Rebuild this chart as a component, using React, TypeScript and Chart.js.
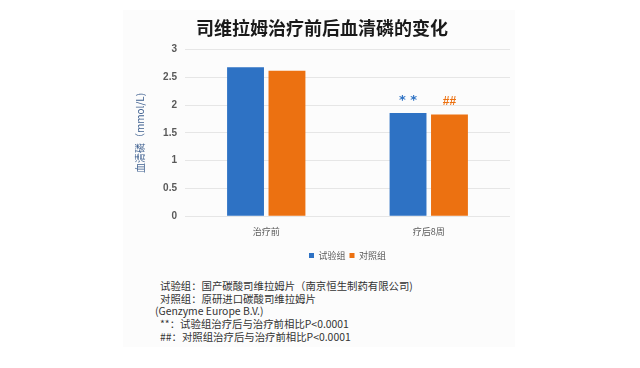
import React, { useEffect, useRef } from "react";
import { Chart, registerables } from "chart.js";

Chart.register(...registerables);

const titleText = "司维拉姆治疗前后血清磷的变化";
const yAxisTitle = "血清磷（mmol/L)";
const categories = ["治疗前", "疗后8周"];
const seriesNames = ["试验组", "对照组"];
const testGroup = [2.68, 1.86];
const controlGroup = [2.62, 1.83];
const testMarks = ["", "**"];
const controlMarks = ["", "##"];
const yMin = 0;
const yMax = 3;
const yStep = 0.5;
const notes = [
  "试验组：国产碳酸司维拉姆片（南京恒生制药有限公司)",
  "对照组：原研进口碳酸司维拉姆片",
  "(Genzyme Europe B.V.)",
  "**：试验组治疗后与治疗前相比P<0.0001",
  "##：对照组治疗后与治疗前相比P<0.0001",
];

const BLUE = "#2E72C4";
const ORANGE = "#EC7111";
const CJK = "'Noto Sans CJK SC', 'Liberation Sans', sans-serif";

const markPlugin = {
  id: "markPlugin",
  afterDatasetsDraw(chart: any) {
    const ctx = chart.ctx;
    const marksList = [testMarks, controlMarks];
    const colors = [BLUE, ORANGE];
    chart.data.datasets.forEach((_: any, di: number) => {
      const meta = chart.getDatasetMeta(di);
      meta.data.forEach((el: any, i: number) => {
        const m = marksList[di][i];
        if (!m) return;
        ctx.save();
        ctx.fillStyle = colors[di];
        ctx.textAlign = "center";
        ctx.textBaseline = "middle";
        if (di === 0) {
          ctx.font = "bold 13px 'DejaVu Sans', sans-serif";
          ctx.fillText(m.split("").join(" "), el.x, el.y - 12);
        } else {
          ctx.font = "bold 12px 'Liberation Sans', sans-serif";
          ctx.fillText(m, el.x, el.y - 13);
        }
        ctx.restore();
      });
    });
  },
};

export default function App() {
  const ref = useRef<HTMLCanvasElement>(null);
  useEffect(() => {
    document.body.style.margin = "0";
    const chart = new Chart(ref.current!, {
      type: "bar",
      data: {
        labels: categories,
        datasets: [
          {
            label: seriesNames[0],
            data: testGroup,
            backgroundColor: BLUE,
            categoryPercentage: 0.51,
            barPercentage: 0.89,
          },
          {
            label: seriesNames[1],
            data: controlGroup,
            backgroundColor: ORANGE,
            categoryPercentage: 0.51,
            barPercentage: 0.89,
          },
        ],
      },
      options: {
        responsive: false,
        animation: false,
        layout: { padding: { left: 134, right: 130, top: 0, bottom: 4 } },
        plugins: {
          title: {
            display: true,
            text: titleText,
            color: "#1a1a1a",
            font: { family: CJK, size: 18, weight: "bold", lineHeight: 1.2 },
            padding: { top: 17, bottom: 11 },
            fullSize: true,
          },
          legend: {
            display: true,
            position: "bottom",
            fullSize: false,
            labels: {
              boxWidth: 5,
              boxHeight: 5,
              color: "#595959",
              font: { family: CJK, size: 9 },
              padding: 4,
            },
          },
          tooltip: { enabled: false },
        },
        scales: {
          x: {
            grid: { display: false, drawTicks: false },
            border: { display: false },
            ticks: {
              color: "#595959",
              font: { family: CJK, size: 9 },
              padding: 10,
            },
          },
          y: {
            min: yMin,
            max: yMax,
            afterFit(scale: any) {
              scale.width = 51;
            },
            grid: { color: "#e6e6e6", drawTicks: false },
            border: { display: false },
            ticks: {
              stepSize: yStep,
              color: "#595959",
              font: { family: "'Liberation Sans', sans-serif", size: 10, weight: "bold" },
              padding: 8,
              callback: (v: any) => String(v),
            },
            title: {
              display: true,
              text: yAxisTitle,
              color: "#3d5f8f",
              font: { family: CJK, size: 10 },
              padding: { top: 0, bottom: 0 },
            },
          },
        },
      },
      plugins: [markPlugin],
    });
    return () => chart.destroy();
  }, []);

  return (
    <div style={{ position: "relative", width: 640, height: 368, background: "#ffffff", overflow: "hidden" }}>
      <div
        style={{
          position: "absolute",
          left: 123,
          top: 10,
          width: 392,
          height: 337,
          background: "#fcfcfc",
        }}
      />
      <canvas ref={ref} width={640} height={274} style={{ position: "absolute", left: 0, top: 0 }} />
      <div
        style={{
          position: "absolute",
          left: 160,
          top: 280,
          fontFamily: CJK,
          fontSize: 10.4,
          lineHeight: "12.7px",
          color: "#333333",
          whiteSpace: "pre",
        }}
      >
        {notes.map((n, i) => (
          <div key={i} style={{ marginLeft: i === 2 ? -5 : 0 }}>
            {n}
          </div>
        ))}
      </div>
    </div>
  );
}
